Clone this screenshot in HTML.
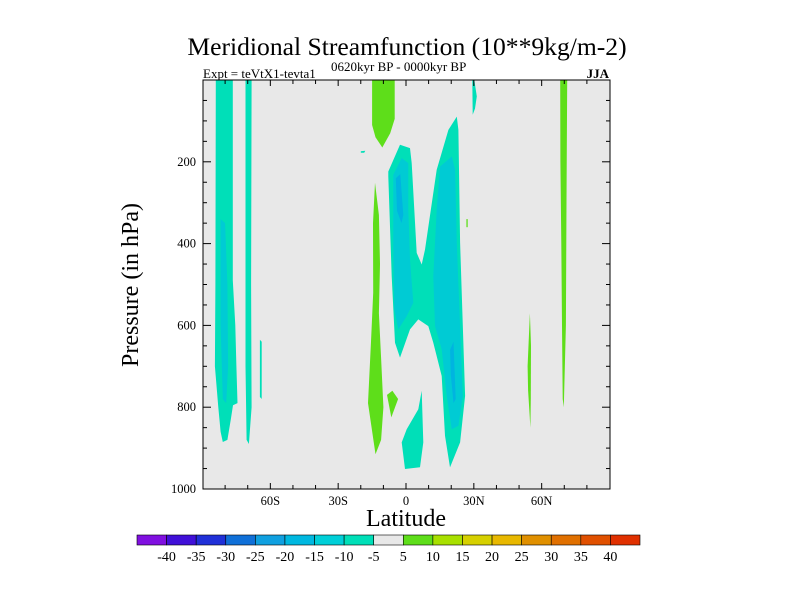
<!DOCTYPE html>
<html><head><meta charset="utf-8"><style>
body{margin:0;background:#fff;}
svg text{font-family:"Liberation Serif",serif;fill:#000;}
</style></head><body>
<svg id="chart" width="800" height="600" xmlns="http://www.w3.org/2000/svg">
<text x="407" y="55" font-size="25.6" text-anchor="middle">Meridional Streamfunction (10**9kg/m-2)</text>
<text x="203" y="78" font-size="13">Expt = teVtX1-tevta1</text>
<text x="331" y="71" font-size="13">0620kyr BP - 0000kyr BP</text>
<text x="609" y="78" font-size="13" text-anchor="end" font-weight="bold">JJA</text>
<rect x="203" y="80" width="407" height="409" fill="#e8e8e8"/>
<g id="contours"></g>
<g id="axes"></g>
<rect x="203" y="80" width="407" height="409" fill="none" stroke="#000" stroke-width="1"/>
<text x="406" y="526" font-size="24" text-anchor="middle">Latitude</text>
<text transform="translate(138,285) rotate(-90)" font-size="24" text-anchor="middle">Pressure (in hPa)</text>
<g id="colorbar"></g>
</svg>
<script>
const xTickVals=[-60,-30,0,30,60];
const xTickLabels=["60S","30S","0","30N","60N"];
const yTickVals=[200,400,600,800,1000];
const cbLabels=["-40","-35","-30","-25","-20","-15","-10","-5","5","10","15","20","25","30","35","40"];
const cbColors=["#8010e0","#4010d8","#2030d8","#1070d8","#10a0e0","#00b8e0","#00cfd8","#00dfb8","#e8e8e8","#5ede1a","#a8e000","#d6d000","#e8b800","#e09000","#e07000","#e05000","#e03000"];
// contour regions: [lat, hPa] vertices
const polyLevels=["m10","m15","m15","m15","m10","m10","m10","m10","m10","p5","p5","p5","p5","p5","p5","m20","m20","m10"];
const polyPts=[
[[-84.1,0],[-76.6,0],[-76.6,490],[-75.5,600],[-75,700],[-74.5,790],[-76.5,795],[-77.5,830],[-79,880],[-81,885],[-82,860],[-83,800],[-84.5,700],[-84.3,500]],
[[-82,340],[-80,350],[-79,500],[-78.7,700],[-79.5,790],[-81,780],[-82,600]],
[[-5.62,231.7],[-1.91,191],[1.03,203.2],[1.03,317],[1.77,439],[3.25,544.7],[0.29,577.2],[-3.4,609.8],[-5.17,561],[-5.62,398.4]],
[[15.06,211.4],[20.24,187],[21.7,219.5],[22.45,398.4],[24.2,642.2],[25.1,772.4],[23.16,845.5],[20.24,853.7],[18.02,772.4],[15.81,658.5],[12.84,601.7],[12.09,479.8],[13.59,317]],
[[-71,0],[-68.3,0],[-68.5,500],[-68.3,800],[-69.5,890],[-70.5,880],[-71,700]],
[[-64.6,635],[-63.8,640],[-63.8,780],[-64.6,775]],
[[-0.44,951],[-1.91,886],[0.29,853.7],[5.45,805],[6.95,760],[7.66,886],[6.2,947]],
[[29.3,0],[30.2,0],[31.3,40],[30.5,70],[29.5,85]],
[[-20,174],[-18,173],[-18.5,178],[-20,178]],
[[-15,0],[-5,0],[-5,95],[-7,130],[-10.5,165],[-13.5,140],[-15,110]],
[[-13.7,251],[-12,330],[-11.5,450],[-12,570],[-11,680],[-10,800],[-11,880],[-13.5,915],[-16.8,790],[-15.5,640],[-14.5,520],[-14.6,350]],
[[-8.4,770],[-6,760],[-3.5,780],[-6.5,825]],
[[26.7,340],[27.3,340],[27.3,360],[26.7,360]],
[[54.8,570],[55.3,650],[55.2,780],[55,850],[54,760],[53.8,700]],
[[68.2,0],[71.3,0],[71,300],[70.7,600],[69.8,800],[69.3,780],[69,600],[68.7,400],[68.3,200]],
[[-4.5,240],[-2.5,230],[-1.2,330],[-2,350],[-4,320]],
[[19.5,660],[21,640],[22,780],[21,790],[19.8,720]],
[[-7.84,223.7],[-2.66,158.5],[1.77,166.6],[2.52,203.2],[4.74,422.7],[6.95,451.2],[8.41,414.6],[13.59,219.5],[18.73,122],[22.45,89.5],[23.16,122],[23.91,397.6],[26.13,772.4],[23.91,886.1],[19.48,947.1],[17.27,870],[15.81,723.7],[12.09,642.2],[9.87,601.7],[5.45,585.4],[1.77,609.8],[-2.66,678.8],[-4.87,642.2],[-6.33,479.8],[-7.84,235.9]]
];
const levelColor={m10:"#00dfb8",m15:"#00cbd4",m20:"#00b4e0",p5:"#5ede1a"};
const drawOrder=[0,1,4,5,7,8,9,10,11,12,13,14,17,2,3,15,16,6];
const NS="http://www.w3.org/2000/svg";
function xs(lat){return 406+lat*(407/180);}
function ys(p){return 80+p*(409/1000);}
const cg=document.getElementById('contours');
drawOrder.forEach(i=>{
  const el=document.createElementNS(NS,'polygon');
  el.setAttribute('points',polyPts[i].map(q=>xs(q[0]).toFixed(1)+','+ys(q[1]).toFixed(1)).join(' '));
  el.setAttribute('fill',levelColor[polyLevels[i]]);
  
  
  cg.appendChild(el);
});
const ag=document.getElementById('axes');
function line(x1,y1,x2,y2,name){const l=document.createElementNS(NS,'line');l.setAttribute('x1',x1);l.setAttribute('y1',y1);l.setAttribute('x2',x2);l.setAttribute('y2',y2);l.setAttribute('stroke','#000');l.setAttribute('stroke-width','1');


ag.appendChild(l);}
for(let lat=-80;lat<=80;lat+=10){const x=xs(lat);const major=lat%30===0;const len=major?6:4;line(x,489,x,489-len,'x-tick');line(x,80,x,80+len,'x-tick-top');}
for(let p=50;p<1000;p+=50){const y=ys(p);const major=p%200===0;const len=major?8:4;line(203,y,203+len,y,'y-tick');line(610,y,610-len,y,'y-tick-right');}
xTickVals.forEach((v,i)=>{const t=document.createElementNS(NS,'text');t.setAttribute('x',xs(v));t.setAttribute('y',505);t.setAttribute('font-size','12.5');t.setAttribute('text-anchor','middle');t.textContent=xTickLabels[i];


ag.appendChild(t);});
yTickVals.forEach(v=>{const t=document.createElementNS(NS,'text');t.setAttribute('x',196);t.setAttribute('y',ys(v)+4);t.setAttribute('font-size','12.5');t.setAttribute('text-anchor','end');t.textContent=v;


ag.appendChild(t);});
const cb=document.getElementById('colorbar');const bw=503/cbColors.length;
cbColors.forEach((c,i)=>{const r=document.createElementNS(NS,'rect');r.setAttribute('x',137+i*bw);r.setAttribute('y',535);r.setAttribute('width',bw);r.setAttribute('height',10);r.setAttribute('fill',c);r.setAttribute('stroke','#000');r.setAttribute('stroke-width','0.6');


cb.appendChild(r);});
cbLabels.forEach((s,i)=>{const t=document.createElementNS(NS,'text');t.setAttribute('x',137+(i+1)*bw);t.setAttribute('y',561);t.setAttribute('font-size','14');t.setAttribute('text-anchor','middle');t.textContent=s;


cb.appendChild(t);});
</script>
</body></html>
